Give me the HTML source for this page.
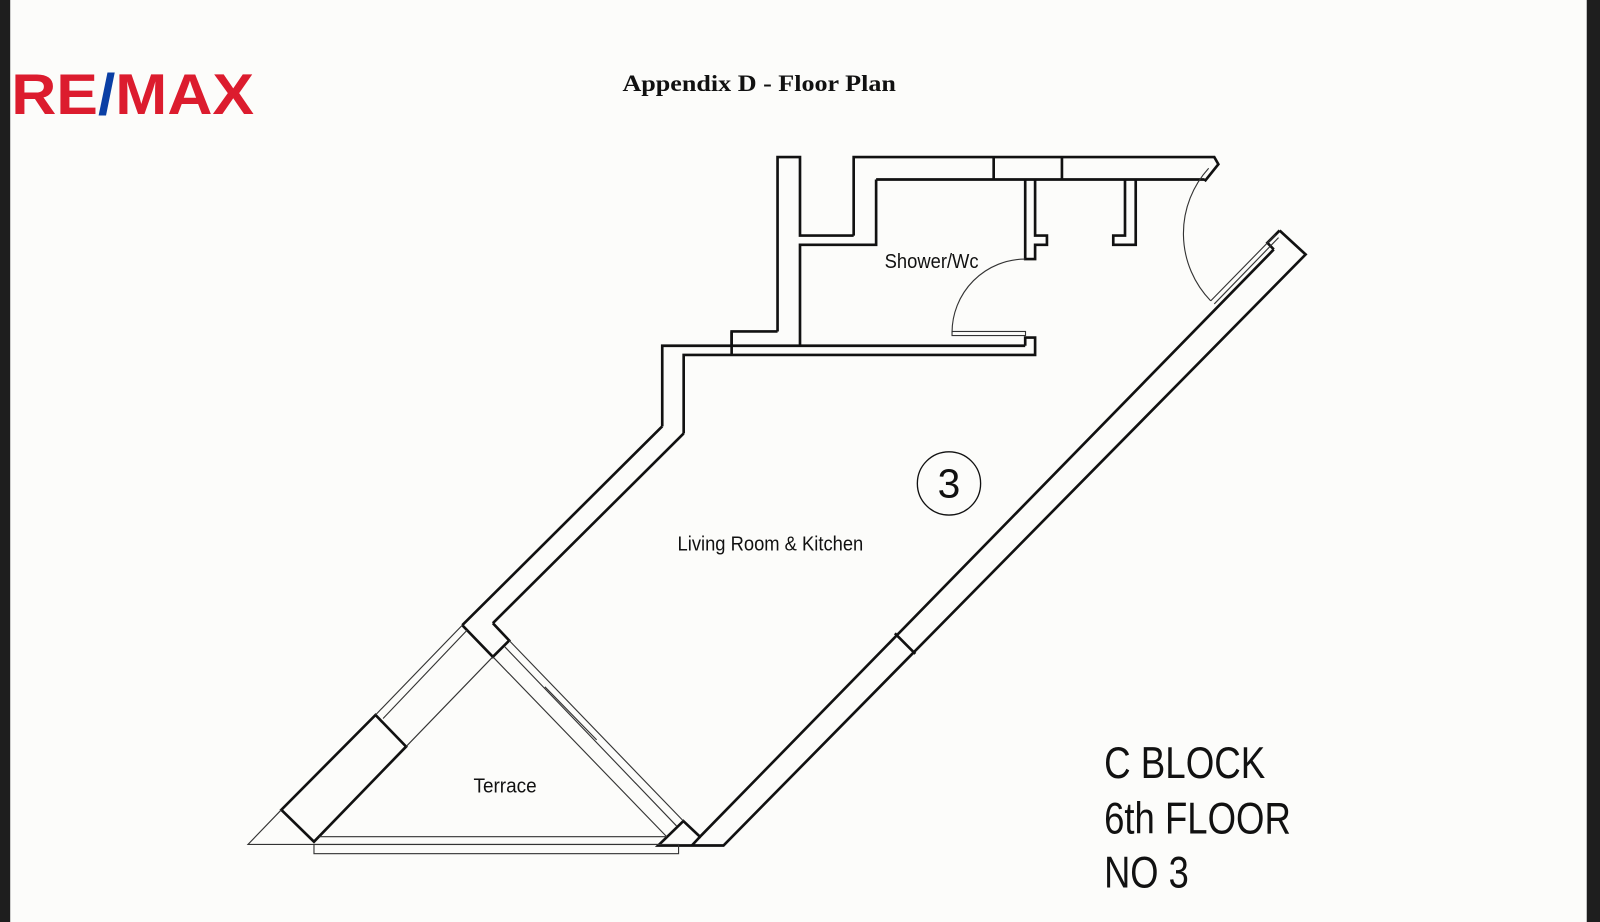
<!DOCTYPE html>
<html><head><meta charset="utf-8"><style>
html,body{margin:0;padding:0;background:#fcfcfa;}
svg{display:block;}
</style></head><body>
<svg width="1600" height="922" viewBox="0 0 1568 904" preserveAspectRatio="none" xmlns="http://www.w3.org/2000/svg">
<rect width="1568" height="904" fill="#fcfcfa"/>
<rect x="0" y="0" width="10" height="904" fill="#1e1e1e"/>
<rect x="1555" y="0" width="13" height="904" fill="#1e1e1e"/>

<!-- logo -->
<text x="11" y="112" font-family="Liberation Sans, sans-serif" font-weight="bold" font-size="56" fill="#dc1c2e" textLength="238" lengthAdjust="spacingAndGlyphs">RE<tspan fill="#0a3fa5">/</tspan>MAX</text>

<text x="744" y="89" text-anchor="middle" font-family="Liberation Serif, serif" font-weight="bold" font-size="23" fill="#111" textLength="268" lengthAdjust="spacingAndGlyphs">Appendix D - Floor Plan</text>

<g fill="none" stroke="#111" stroke-width="2.6" stroke-linejoin="miter">
  <polyline points="836.6,231 836.6,154 1190,154 1194,161 1180.6,177.8"/>
  <line x1="858.6" y1="176" x2="1180.6" y2="176"/>
  <line x1="973.8" y1="154" x2="973.8" y2="176"/>
  <line x1="1040.7" y1="154" x2="1040.7" y2="176"/>
  <polyline points="762,325 762,154 784,154 784,231 836.6,231"/>
  <polyline points="784,339 784,240 858.6,240 858.6,176"/>
  <polyline points="717,339 717,325 762,325"/>
  <line x1="717" y1="325" x2="717" y2="348"/>
  <polyline points="649,418 649,339 784,339 1004.7,339"/>
  <polyline points="670,425 670,348 1014.4,348 1014.4,331 1004.7,331 1004.7,339"/>
  <polyline points="1004.7,176 1004.7,254 1014.4,254 1014.4,240 1026,240 1026,231 1014.4,231 1014.4,176"/>
  <polyline points="1102.5,176 1102.5,231 1091,231 1091,240 1113,240 1113,176"/>
  <line x1="649" y1="418" x2="453" y2="613"/>
  <line x1="670" y1="425" x2="483" y2="611"/>
  <polyline points="453,613 483,644 499,628 483,611"/>
  <polygon points="368,701 398,732 307.7,825.3 275.7,794"/>
  <polyline points="1254,226 1279.5,249.5 709,829 645,829 669.7,805 686,820.4 1248.3,244.6"/>
  <polyline points="1248.3,244.6 1242,238 1254,226"/>
  <line x1="678" y1="829" x2="686" y2="820.4"/>
  <line x1="877" y1="621" x2="897" y2="641"/>
</g>

<g fill="none" stroke="#333" stroke-width="1.1">
  <rect x="933" y="325" width="72" height="4"/>
  <path d="M933,326 A72,72 0 0 1 1004.7,254"/>
  <line x1="1186.5" y1="295" x2="1250" y2="230"/>
  <line x1="1190" y1="298" x2="1253" y2="233"/>
  <path d="M1186.5,295 A95,95 0 0 1 1184.5,165"/>
  <line x1="453" y1="613" x2="368" y2="701"/>
  <line x1="457.8" y1="617.8" x2="375.4" y2="704.5"/>
  <line x1="483" y1="644" x2="398" y2="732"/>
  <line x1="499" y1="628" x2="669.7" y2="805"/>
  <line x1="494.8" y1="634.3" x2="663" y2="809.8"/>
  <line x1="483" y1="644" x2="653.4" y2="820.4"/>
  <line x1="534" y1="673.4" x2="584.7" y2="725.4"/>
  <polyline points="275.7,794 243,828 645,828"/>
  <line x1="313" y1="820.4" x2="653.4" y2="820.4"/>
  <rect x="307.7" y="828" width="357.3" height="9"/>
</g>

<circle cx="930" cy="474" r="31" fill="none" stroke="#111" stroke-width="1.3"/>
<text x="930" y="488" text-anchor="middle" font-family="Liberation Sans, sans-serif" font-size="40" fill="#111">3</text>

<g font-family="Liberation Sans Narrow, Liberation Sans, sans-serif" fill="#111">
<text x="913" y="263" text-anchor="middle" font-size="20" textLength="92" lengthAdjust="spacingAndGlyphs">Shower/Wc</text>
<text x="755" y="540" text-anchor="middle" font-size="20" textLength="182" lengthAdjust="spacingAndGlyphs">Living Room &amp; Kitchen</text>
<text x="495" y="777" text-anchor="middle" font-size="20" textLength="62" lengthAdjust="spacingAndGlyphs">Terrace</text>
<text x="1082" y="763" font-size="44" textLength="158" lengthAdjust="spacingAndGlyphs">C BLOCK</text>
<text x="1082" y="817" font-size="44" textLength="183" lengthAdjust="spacingAndGlyphs">6th FLOOR</text>
<text x="1082" y="870" font-size="44" textLength="83" lengthAdjust="spacingAndGlyphs">NO 3</text>
</g>
</svg>
</body></html>
